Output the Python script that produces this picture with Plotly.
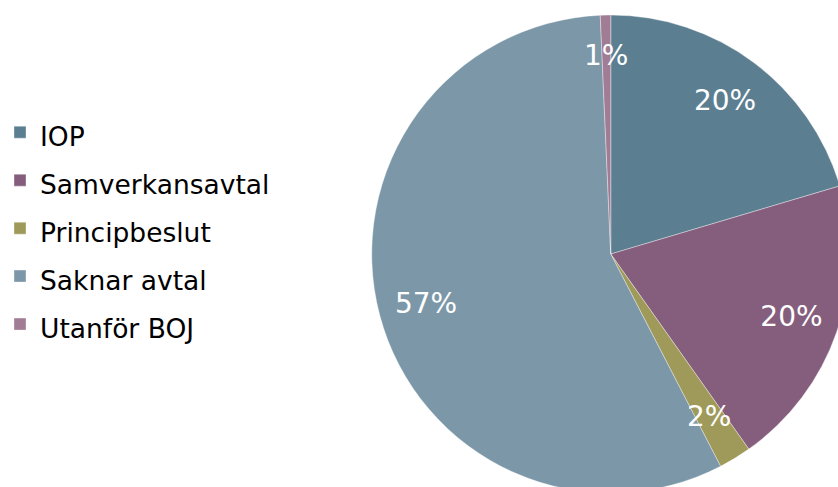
import plotly.graph_objects as go

categories = ["IOP", "Samverkansavtal", "Principbeslut", "Saknar avtal", "Utanför BOJ"]
values = [20.4, 19.8, 2.2, 56.9, 0.7]
colors = ["#5B7F91", "#855E7D", "#A09A5A", "#7C98A8", "#A17C95"]

W, H = 850, 493
PLOT_H = H - 15
CX, R = 610.5, 239
legend_labels = [f"<span style='font-size:26.5px'>{c}</span>" for c in categories]
dom = dict(x=[(CX - R) / W, 1], y=[0, 1])

small = [v < 5 for v in values]
big_tpl = ["" if s else "%{percent:.0%}" for s in small]
small_tpl = ["%{percent:.0%}" if s else "" for s in small]

fig = go.Figure()
fig.add_trace(go.Pie(
    labels=legend_labels,
    values=values,
    sort=False,
    direction="clockwise",
    rotation=0,
    marker=dict(colors=colors, line=dict(color="rgba(255,255,255,0.6)", width=0.6)),
    textinfo="none",
    hoverinfo="label+percent",
    domain=dom,
))
# transparent ring carrying the large-slice labels at ~80% of the radius
fig.add_trace(go.Pie(
    labels=categories, values=values, sort=False, direction="clockwise", rotation=0,
    hole=0.6,
    marker=dict(colors=["rgba(0,0,0,0)"] * len(values), line=dict(width=0)),
    texttemplate=big_tpl,
    textposition="inside",
    insidetextorientation="horizontal",
    textfont=dict(family="DejaVu Sans", size=28, color="white"),
    hoverinfo="skip", showlegend=False, domain=dom,
))
# smaller transparent pie carrying the thin-slice labels
R2 = 203
fig.add_trace(go.Pie(
    labels=categories, values=values, sort=False, direction="clockwise", rotation=0,
    marker=dict(colors=["rgba(0,0,0,0)"] * len(values), line=dict(width=0)),
    texttemplate=small_tpl,
    textposition="inside",
    insidetextorientation="horizontal",
    textfont=dict(family="DejaVu Sans", size=28, color="white"),
    hoverinfo="skip", showlegend=False,
    domain=dict(x=[(CX - R2) / W, (CX + R2) / W],
                y=[0.5 - R2 / PLOT_H, 0.5 + R2 / PLOT_H]),
))

fig.update_layout(
    width=W, height=H,
    margin=dict(l=0, r=0, t=15, b=0),
    paper_bgcolor="white",
    plot_bgcolor="white",
    uniformtext=dict(minsize=28, mode="show"),
    showlegend=True,
    legend=dict(
        x=0, y=0.554, xanchor="left", yanchor="middle",
        font=dict(family="DejaVu Sans", size=34.6, color="#000000"),
        bgcolor="rgba(0,0,0,0)",
    ),
)

fig.write_html(
    "out.html",
    config={"displayModeBar": False},
    post_script="document.body.style.overflow='hidden';document.documentElement.style.overflow='hidden';document.body.style.margin='0';",
)
